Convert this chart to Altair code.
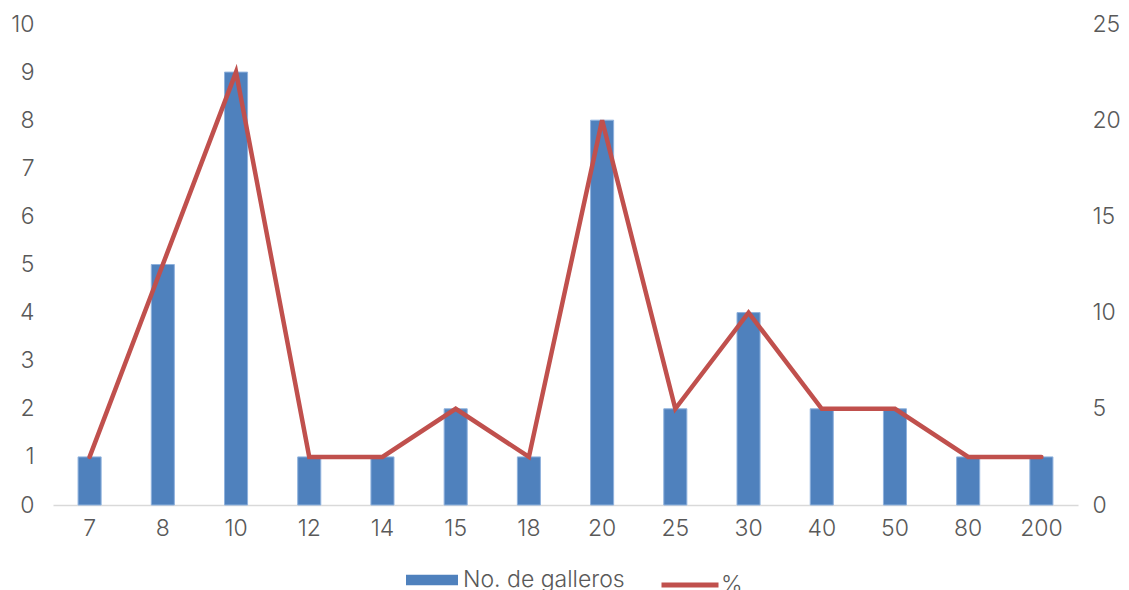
import altair as alt
import pandas as pd

categories = ["7", "8", "10", "12", "14", "15", "18", "20", "25", "30", "40", "50", "80", "200"]
counts = [1, 5, 9, 1, 1, 2, 1, 8, 2, 4, 2, 2, 1, 1]
percent = [2.5, 12.5, 22.5, 2.5, 2.5, 5, 2.5, 20, 5, 10, 5, 5, 2.5, 2.5]

df = pd.DataFrame({
    "cat": categories,
    "count": counts,
    "pct": percent,
    "s1": ["No. de galleros"] * len(categories),
    "s2": ["%"] * len(categories),
})

FONT = "Inter"
GRAY = "#595959"
FS = 23

x = alt.X(
    "cat:N",
    sort=categories,
    scale=alt.Scale(paddingInner=0.685, paddingOuter=0.3425),
    axis=alt.Axis(
        title=None, labelAngle=0, ticks=False, domain=True, domainColor="#D9D9D9",
        domainWidth=1.5, labelPadding=12, labelFontSize=FS, labelColor=GRAY, labelFont=FONT,
        labelFontWeight=300,
    ),
)

bars = alt.Chart(df).mark_bar(stroke="#8FB2DD", strokeWidth=1).encode(
    x=x,
    y=alt.Y(
        "count:Q",
        scale=alt.Scale(domain=[0, 10], nice=False),
        axis=alt.Axis(
            title=None, values=list(range(0, 11)), grid=False, ticks=False, domain=False,
            labelPadding=19, labelFontSize=FS, labelColor=GRAY, labelFont=FONT,
            labelFontWeight=300,
        ),
    ),
    fill=alt.Fill(
        "s1:N",
        scale=alt.Scale(domain=["No. de galleros"], range=["#4F81BD"]),
        legend=alt.Legend(
            title=None, orient="none", legendX=353, legendY=530, padding=0,
            symbolType="M-1,-0.2L1,-0.2L1,0.2L-1,0.2Z", symbolSize=2704,
            symbolStrokeWidth=0, symbolOpacity=1, labelOffset=5, labelLimit=400,
            labelFontSize=FS, labelColor=GRAY, labelFont=FONT, labelFontWeight=300,
        ),
    ),
)

line = alt.Chart(df).mark_line(strokeWidth=4.5, strokeCap="round").encode(
    x=x,
    y=alt.Y(
        "pct:Q",
        scale=alt.Scale(domain=[0, 25], nice=False),
        axis=alt.Axis(
            title=None, orient="right", values=[0, 5, 10, 15, 20, 25], grid=False, ticks=False,
            domain=False, labelPadding=14, labelFontSize=FS, labelColor=GRAY, labelFont=FONT,
            labelFontWeight=300,
        ),
    ),
    stroke=alt.Stroke(
        "s2:N",
        scale=alt.Scale(domain=["%"], range=["#C0504D"]),
        legend=alt.Legend(
            title=None, orient="none", legendX=606, legendY=530, padding=0,
            symbolType="stroke", symbolSize=3249, symbolStrokeWidth=5, symbolOpacity=1,
            symbolStrokeColor="#C0504D", labelOffset=0, labelLimit=400,
            labelFontSize=FS, labelColor=GRAY, labelFont=FONT, labelFontWeight=300,
        ),
    ),
)

chart = alt.layer(bars, line).resolve_scale(y="independent").properties(
    width=1025,
    height=481,
    autosize=alt.AutoSizeParams(type="none"),
    padding={"left": 45, "top": 16, "right": 43, "bottom": 90},
    background="white",
).configure_view(stroke=None)

chart.save("out.html", embed_options={"renderer": "svg", "actions": False})
